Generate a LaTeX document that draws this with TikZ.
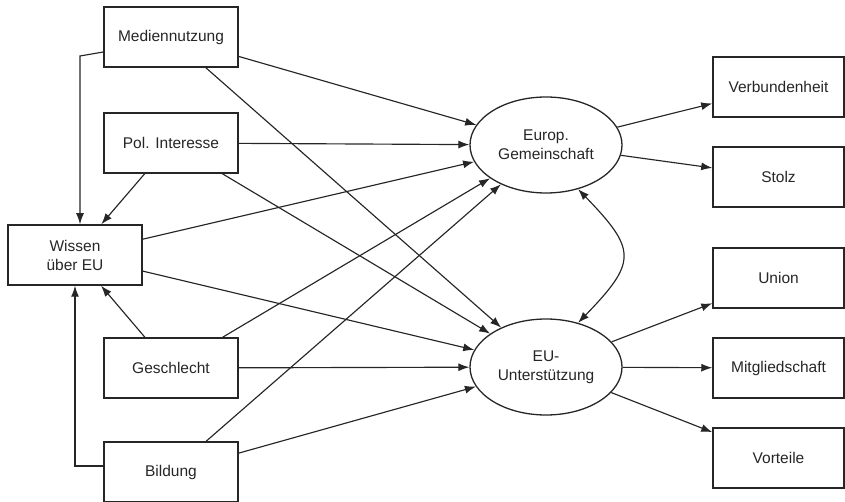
\documentclass[tikz,border=0pt]{standalone}
\usepackage{fontspec}
\setmainfont{Liberation Sans}
\usetikzlibrary{arrows.meta,shapes.geometric}
\begin{document}
\begin{tikzpicture}[x=1pt,y=-1pt,
  line width=1.15pt,
  every node/.style={font=\fontsize{15.5}{19}\selectfont, text=black!85},
  box/.style={draw=black!85, line width=1.5pt, rectangle, minimum width=134pt, minimum height=60pt, inner sep=0pt, align=center},
  rbox/.style={box, minimum width=131pt},
  lat/.style={draw=black!85, line width=1.3pt, ellipse, minimum width=152pt, minimum height=96pt, inner sep=0pt, align=center},
  arr/.style={draw=black!85, -{Latex[length=11pt,width=8pt]}},
  darr/.style={draw=black!85, {Latex[length=11pt,width=8pt]}-{Latex[length=11pt,width=8pt]}}
]
\useasboundingbox (0,0) rectangle (845,502);
\node[box] (med) at (171,37) {Mediennutzung};
\node[box] (pol) at (171,143) {Pol. Interesse};
\node[box] (wis) at (75,255) {Wissen\\über EU};
\node[box] (ges) at (171,368) {Geschlecht};
\node[box] (bil) at (171,472) {Bildung};
\node[lat] (eg) at (546,145) {Europ.\\Gemeinschaft};
\node[lat] (eu) at (546,367) {EU-\\Unterstützung};
\node[rbox] (ver) at (778.5,87) {Verbundenheit};
\node[rbox] (sto) at (778.5,177) {Stolz};
\node[rbox] (uni) at (778.5,278) {Union};
\node[rbox] (mit) at (778.5,368) {Mitgliedschaft};
\node[rbox] (vor) at (778.5,458) {Vorteile};
\coordinate (k1) at (80,56);
% to Wissen
\draw[arr] ([yshift=-15pt]med.west) -- (k1) -- (k1 |- wis.north);
\draw[arr] (pol) -- (wis);
\draw[arr] (ges) -- (wis);
\draw[arr] ([yshift=6pt]bil.west) -| (wis.south);
% to Europ. Gemeinschaft
\draw[arr] (med) -- (eg);
\draw[arr] (pol) -- (eg);
\draw[arr] (wis) -- (eg);
\draw[arr] (ges) -- (eg);
\draw[arr] (bil) -- (eg);
% to EU-Unterstuetzung
\draw[arr] (med) -- (eu);
\draw[arr] (pol) -- (eu);
\draw[arr] (wis) -- (eu);
\draw[arr] (ges) -- (eu);
\draw[arr] (bil) -- (eu);
% indicators
\draw[arr] (eg) -- (ver);
\draw[arr] (eg) -- (sto);
\draw[arr] (eu) -- (uni);
\draw[arr] (eu) -- (mit);
\draw[arr] (eu) -- (vor);
% correlation
\draw[darr] (eg.-54) .. controls (637,250) and (637,262) .. (eu.54);
\end{tikzpicture}
\end{document}
